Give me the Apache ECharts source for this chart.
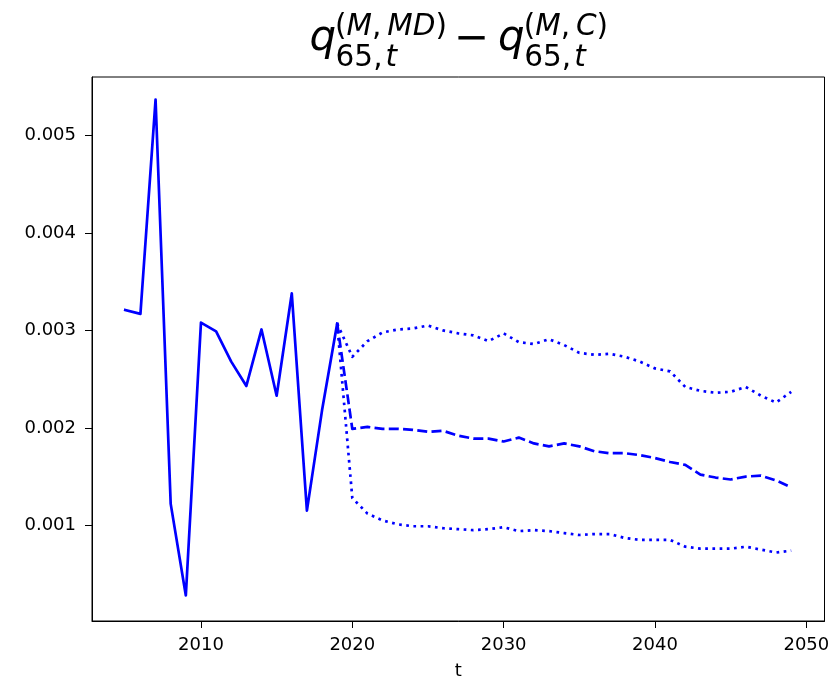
<!DOCTYPE html>
<html>
<head>
<meta charset="utf-8">
<script src="https://cdn.jsdelivr.net/npm/echarts@6/dist/echarts.min.js"></script>
<style>
html,body{margin:0;padding:0;background:#fff;}
#chart{width:833px;height:677px;}
</style>
</head>
<body>
<div id="chart"></div>
<script>
// ---- data ----
const histYears = [2005,2006,2007,2008,2009,2010,2011,2012,2013,2014,2015,2016,2017,2018,2019];
const histValues = [0.00321,0.00317,0.00537,0.00122,0.00028,0.00308,0.00299,0.00268,0.00243,0.00301,0.00233,0.00338,0.00115,0.00218,0.00307];

const projYears = [2019,2020,2021,2022,2023,2024,2025,2026,2027,2028,2029,2030,2031,2032,2033,2034,
                   2035,2036,2037,2038,2039,2040,2041,2042,2043,2044,2045,2046,2047,2048,2049];
const medianValues = [0.00307,0.00199,0.00201,0.00199,0.00199,0.00198,0.00196,0.00197,0.00192,0.00189,0.00189,0.00186,0.00190,0.00184,0.00181,0.00184,
                      0.00181,0.00176,0.00174,0.00174,0.00172,0.00169,0.00165,0.00162,0.00152,0.00149,0.00147,0.00150,0.00151,0.00146,0.00139];
const upperValues = [0.00307,0.00273,0.00289,0.00298,0.00301,0.00302,0.00305,0.00300,0.00297,0.00295,0.00289,0.00297,0.00288,0.00286,0.00291,0.00285,
                     0.00277,0.00275,0.00276,0.00273,0.00268,0.00261,0.00258,0.00242,0.00238,0.00236,0.00237,0.00242,0.00233,0.00226,0.00237];
const lowerValues = [0.00307,0.00128,0.00112,0.00105,0.00101,0.00099,0.00099,0.00097,0.00096,0.00095,0.00096,0.00098,0.00094,0.00095,0.00094,0.00092,
                     0.00090,0.00091,0.00091,0.00087,0.00085,0.00085,0.00085,0.00078,0.00076,0.00076,0.00076,0.00078,0.00075,0.00072,0.00074];

const xTicks = [2010,2020,2030,2040,2050];
const yTicks = [0.001,0.002,0.003,0.004,0.005];

// ---- chart ----
const pair = (xs, ys) => xs.map((x, i) => [x, ys[i]]);
const FONT = '"DejaVu Sans", sans-serif';
const BLUE = '#0000ff';

const chart = echarts.init(document.getElementById('chart'), null, {renderer: 'canvas'});

const upr = {fontFamily: FONT, fontStyle: 'normal'};
const itl = {fontFamily: FONT, fontStyle: 'italic'};

function t(x, y, text, size, rich) {
  return {
    type: 'text', z: 100,
    x: x, y: y,
    style: {
      text: text, x: 0, y: 0, fill: '#000',
      fontFamily: FONT, fontSize: size, fontStyle: 'normal',
      verticalAlign: 'middle', align: 'left',
      rich: rich
    }
  };
}
const supSize = 29.5, bigSize = 42;
const richS = {
  u: Object.assign({fontSize: supSize}, upr),
  i: Object.assign({fontSize: supSize}, itl)
};
const richB = {
  u: Object.assign({fontSize: bigSize}, upr),
  i: Object.assign({fontSize: bigSize}, itl)
};

chart.setOption({
  animation: false,
  backgroundColor: '#fff',
  grid: {left: 92, right: 8.5, top: 77, bottom: 56, show: true, borderColor: '#000', borderWidth: 1,
         containLabel: false, outerBoundsMode: 'none'},
  xAxis: {
    type: 'value', min: 2002.8, max: 2051.2,
    name: 't', nameLocation: 'middle', nameGap: 41,
    nameTextStyle: {fontFamily: FONT, fontSize: 18, color: '#000'},
    axisLine: {show: true, onZero: false, lineStyle: {color: '#000', width: 1}},
    axisTick: {show: true, length: 7, lineStyle: {color: '#000', width: 1}, customValues: xTicks},
    axisLabel: {fontFamily: FONT, fontSize: 18, color: '#000', margin: 15, customValues: xTicks, formatter: v => String(v)},
    splitLine: {show: false}
  },
  yAxis: {
    type: 'value', min: 0.0000174, max: 0.0056017,
    axisLine: {show: true, onZero: false, lineStyle: {color: '#000', width: 1}},
    axisTick: {show: true, length: 7, lineStyle: {color: '#000', width: 1}, customValues: yTicks},
    axisLabel: {fontFamily: FONT, fontSize: 18, color: '#000', margin: 16, customValues: yTicks, formatter: v => v.toFixed(3)},
    splitLine: {show: false}
  },
  graphic: [
    t(309.5, 39.5, '{i|q}', bigSize, richB),
    t(335, 27.3, '{u|(}{i|M}{u|,\u2009}{i|MD}{u|)}', supSize, richS),
    t(335.6, 58.8, '{u|65,\u200A}{i|t}', supSize, richS),
    t(453.8, 39.7, '{u|\u2212}', bigSize, richB),
    t(498, 39.5, '{i|q}', bigSize, richB),
    t(523.7, 27.3, '{u|(}{i|M}{u|,\u2009}{i|C}{u|)}', supSize, richS),
    t(524.3, 58.8, '{u|65,\u200A}{i|t}', supSize, richS)
  ],
  series: [
    {type: 'line', data: pair(histYears, histValues), showSymbol: false, symbol: 'none',
     lineStyle: {color: BLUE, width: 2.7, type: 'solid', join: 'round', cap: 'square'}, z: 5},
    {type: 'line', data: pair(projYears, medianValues), showSymbol: false, symbol: 'none',
     lineStyle: {color: BLUE, width: 2.7, type: [10, 4.3], cap: 'butt', join: 'round'}},
    {type: 'line', data: pair(projYears, upperValues), showSymbol: false, symbol: 'none',
     lineStyle: {color: BLUE, width: 2.7, type: [2.7, 4.5], cap: 'butt', join: 'round'}},
    {type: 'line', data: pair(projYears, lowerValues), showSymbol: false, symbol: 'none',
     lineStyle: {color: BLUE, width: 2.7, type: [2.7, 4.5], cap: 'butt', join: 'round'}}
  ]
});
</script>
</body>
</html>
